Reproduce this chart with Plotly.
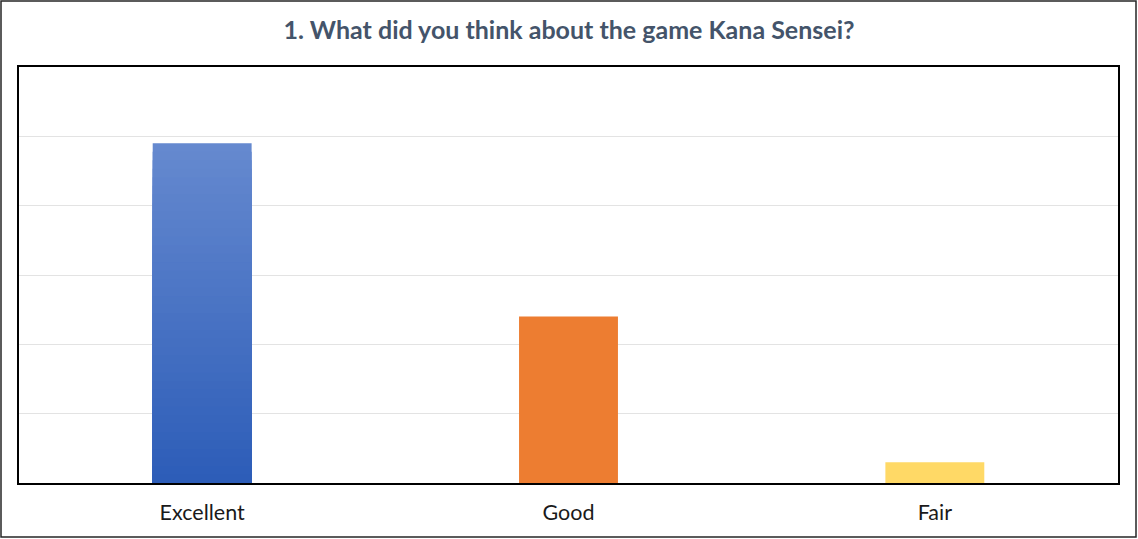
import plotly.graph_objects as go

categories = ["Excellent", "Good", "Fair"]
responses = [49, 24, 3]

colors = {"Good": "#ED7D31", "Fair": "#FFD966"}
# Excellent bar has a vertical gradient, light at the top, dark at the bottom
grad_top = (0x65, 0x89, 0xCF)
grad_bottom = (0x2D, 0x5D, 0xB8)
steps = 40

fig = go.Figure()

exc = responses[categories.index("Excellent")]
for k in range(steps):
    t = k / (steps - 1)
    rgb = tuple(round(a + (b - a) * t) for a, b in zip(grad_top, grad_bottom))
    fig.add_trace(go.Bar(
        x=["Excellent"], y=[exc * (steps - k) / steps],
        marker=dict(color="rgb(%d,%d,%d)" % rgb, line=dict(width=0)),
        width=0.27, hoverinfo="skip", showlegend=False,
    ))

for cat, val in zip(categories, responses):
    if cat in colors:
        fig.add_trace(go.Bar(
            x=[cat], y=[val],
            marker=dict(color=colors[cat], line=dict(width=0)),
            width=0.27, showlegend=False,
        ))

fig.update_layout(
    width=1138, height=539,
    barmode="overlay",
    paper_bgcolor="white", plot_bgcolor="white",
    margin=dict(l=19, r=20, t=67, b=56),
    title=dict(
        text="<b>1. What did you think about the game Kana Sensei?</b>",
        x=0.5, xanchor="center", y=0.943, yanchor="middle",
        font=dict(family="Lato, Open Sans, sans-serif", size=25, color="#44546A"),
    ),
    xaxis=dict(
        categoryorder="array", categoryarray=categories,
        showline=True, linecolor="black", linewidth=2, mirror=True,
        ticks="", ticklabelstandoff=9,
        tickfont=dict(family="Lato, Open Sans, sans-serif", size=21.5, color="#1a1a1a"),
    ),
    yaxis=dict(
        range=[0, 60], dtick=10, showticklabels=False,
        showgrid=True, gridcolor="#E3E3E3", gridwidth=1,
        showline=True, linecolor="black", linewidth=2, mirror=True,
        zeroline=False,
    ),
    shapes=[dict(
        type="rect", xref="paper", yref="paper",
        x0=-18 / 1099, x1=1 + 18 / 1099, y0=-54 / 416, y1=1 + 66 / 416,
        line=dict(color="#262626", width=1.5), fillcolor="rgba(0,0,0,0)", layer="below",
    )],
)

fig.write_html("out.html", config={"displayModeBar": False},
               post_script="document.body.style.margin='0';")
